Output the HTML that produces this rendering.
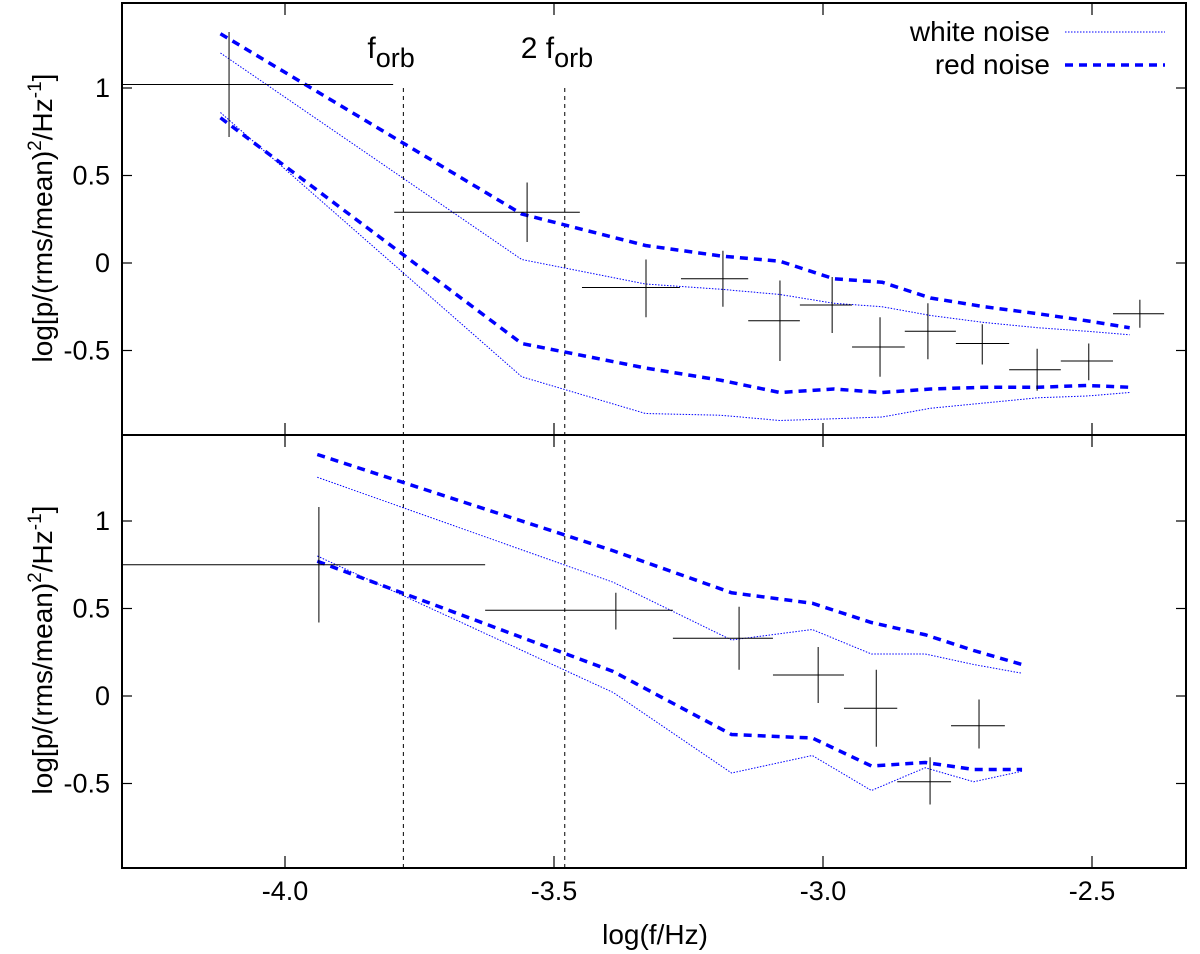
<!DOCTYPE html>
<html><head><meta charset="utf-8"><style>
body{margin:0;background:#fff}
svg{font-family:"Liberation Sans",sans-serif;display:block}
</style></head><body>
<svg id="c" width="1200" height="954" viewBox="0 0 1200 954"></svg>
<script>
const topLineX=[-4.12,-3.56,-3.33,-3.19,-3.08,-2.98,-2.89,-2.80,-2.70,-2.60,-2.51,-2.43];
const topRedHi=[1.31,0.28,0.10,0.04,0.01,-0.09,-0.11,-0.20,-0.25,-0.29,-0.33,-0.37];
const topWhiteHi=[1.20,0.02,-0.12,-0.15,-0.18,-0.23,-0.25,-0.30,-0.34,-0.37,-0.39,-0.41];
const topRedLo=[0.83,-0.46,-0.60,-0.67,-0.74,-0.72,-0.74,-0.72,-0.71,-0.71,-0.70,-0.71];
const topWhiteLo=[0.86,-0.65,-0.86,-0.87,-0.90,-0.89,-0.88,-0.83,-0.80,-0.77,-0.76,-0.74];
const topPtX=[-4.104,-3.550,-3.329,-3.186,-3.080,-2.983,-2.894,-2.805,-2.704,-2.602,-2.506,-2.411];
const topPtXlo=[-4.31,-3.797,-3.448,-3.264,-3.139,-3.043,-2.946,-2.848,-2.753,-2.654,-2.558,-2.461];
const topPtXhi=[-3.799,-3.452,-3.266,-3.139,-3.043,-2.946,-2.848,-2.753,-2.654,-2.558,-2.461,-2.366];
const topPtY=[1.02,0.29,-0.14,-0.09,-0.33,-0.24,-0.48,-0.39,-0.46,-0.61,-0.56,-0.29];
const topPtYlo=[0.72,0.12,-0.31,-0.25,-0.56,-0.40,-0.65,-0.55,-0.58,-0.73,-0.67,-0.37];
const topPtYhi=[1.32,0.46,0.02,0.07,-0.10,-0.08,-0.31,-0.23,-0.35,-0.49,-0.46,-0.21];
const botLineX=[-3.94,-3.39,-3.17,-3.02,-2.91,-2.81,-2.72,-2.63];
const botRedHi=[1.38,0.83,0.59,0.53,0.42,0.35,0.26,0.18];
const botWhiteHi=[1.25,0.65,0.32,0.38,0.24,0.24,0.18,0.13];
const botRedLo=[0.77,0.14,-0.22,-0.24,-0.40,-0.38,-0.42,-0.42];
const botWhiteLo=[0.80,0.02,-0.44,-0.34,-0.54,-0.41,-0.49,-0.43];
const botPtX=[-3.937,-3.385,-3.156,-3.009,-2.901,-2.801,-2.710];
const botPtXlo=[-4.31,-3.628,-3.279,-3.093,-2.961,-2.862,-2.762];
const botPtXhi=[-3.628,-3.279,-3.093,-2.961,-2.862,-2.762,-2.662];
const botPtY=[0.75,0.49,0.33,0.12,-0.07,-0.49,-0.17];
const botPtYlo=[0.42,0.38,0.15,-0.04,-0.29,-0.62,-0.30];
const botPtYhi=[1.08,0.59,0.51,0.28,0.15,-0.35,-0.02];
const xTicks=[-4.0,-3.5,-3.0,-2.5];
const xTickLabels=["-4.0","-3.5","-3.0","-2.5"];
const yTicks=[1,0.5,0,-0.5];
const yTickLabels=["1","0.5","0","-0.5"];
const fLines=[-3.78,-3.48];

const L=122,R=1186,T=3,M=435,B=868;
const sx=v=>285+(v+4)*538;
const syTop=v=>263-v*175;
const syBot=v=>696-v*175;
const svg=document.getElementById('c');
const NS='http://www.w3.org/2000/svg';
function mk(tag,attrs,parent){const e=document.createElementNS(NS,tag);for(const k in attrs)e.setAttribute(k,attrs[k]);(parent||svg).appendChild(e);return e;}
function clampX(p){return Math.max(L,Math.min(R,p));}

const frame=mk('g',{});


mk('rect',{x:L,y:T,width:R-L,height:B-T,fill:'none',stroke:'#000','stroke-width':2},frame);
mk('line',{x1:L,x2:R,y1:M,y2:M,stroke:'#000','stroke-width':2},frame);

const ticks=mk('g',{stroke:'#000','stroke-width':1.2});


xTicks.forEach(v=>{const x=sx(v);
 [[T,T+12],[M-12,M+12],[B-12,B]].forEach(([a,b])=>mk('line',{x1:x,x2:x,y1:a,y2:b},ticks));});
yTicks.forEach(v=>{[syTop(v),syBot(v)].forEach(y=>{
 mk('line',{x1:L,x2:L+10,y1:y,y2:y},ticks);mk('line',{x1:R-10,x2:R,y1:y,y2:y},ticks);});});

xTicks.forEach((v,i)=>{const t=mk('text',{x:sx(v),y:900,'font-size':27,'text-anchor':'middle'});
 t.textContent=xTickLabels[i];
 
 });
yTicks.forEach((v,i)=>{[syTop(v),syBot(v)].forEach(y=>{
 const t=mk('text',{x:110,y:y+9,'font-size':27,'text-anchor':'end'});
 t.textContent=yTickLabels[i];
 
 });});

const xt=mk('text',{x:655,y:944,'font-size':28,'text-anchor':'middle'});
xt.textContent='log(f/Hz)';


[[218,'y-axis-title-top'],[650,'y-axis-title-bottom']].forEach(([cy,nm])=>{
 const t=mk('text',{x:0,y:0,'font-size':28,'text-anchor':'middle',transform:`translate(52,${cy}) rotate(-90)`});
 t.innerHTML='log[p/(rms/mean)<tspan dy="-11" font-size="19">2</tspan><tspan dy="11">/Hz</tspan><tspan dy="-11" font-size="19">-1</tspan><tspan dy="11">]</tspan>';
 
 });

fLines.forEach((v,i)=>{const l=mk('line',{x1:sx(v),x2:sx(v),y1:88,y2:B,stroke:'#000','stroke-width':1,'stroke-dasharray':'4,4'});
 
 });
const f1=mk('text',{x:sx(fLines[0])-36,y:58,'font-size':30});
f1.innerHTML='f<tspan dy="9" font-size="27">orb</tspan>';


const f2=mk('text',{x:sx(fLines[1])-44,y:58,'font-size':30});
f2.innerHTML='2 f<tspan dy="9" font-size="27">orb</tspan>';



function poly(xs,ys,sy,red,name){
 const pts=xs.map((v,i)=>sx(v)+','+sy(ys[i])).join(' ');
 const p=mk('polyline',{points:pts,fill:'none',stroke:'#0000ff','stroke-width':red?3.5:1,'stroke-dasharray':red?'8,6':'1.5,1.5'});
 
 }
poly(topLineX,topWhiteHi,syTop,false,'top-white-noise-upper');
poly(topLineX,topWhiteLo,syTop,false,'top-white-noise-lower');
poly(topLineX,topRedHi,syTop,true,'top-red-noise-upper');
poly(topLineX,topRedLo,syTop,true,'top-red-noise-lower');
poly(botLineX,botWhiteHi,syBot,false,'bottom-white-noise-upper');
poly(botLineX,botWhiteLo,syBot,false,'bottom-white-noise-lower');
poly(botLineX,botRedHi,syBot,true,'bottom-red-noise-upper');
poly(botLineX,botRedLo,syBot,true,'bottom-red-noise-lower');

function crosses(X,Xl,Xh,Y,Yl,Yh,sy,name){
 X.forEach((v,i)=>{const g=mk('g',{stroke:'#000','stroke-width':1});
  
  
  mk('line',{x1:clampX(sx(Xl[i])),x2:clampX(sx(Xh[i])),y1:sy(Y[i]),y2:sy(Y[i])},g);
  mk('line',{x1:sx(v),x2:sx(v),y1:sy(Yl[i]),y2:sy(Yh[i])},g);});}
crosses(topPtX,topPtXlo,topPtXhi,topPtY,topPtYlo,topPtYhi,syTop,'top-data-point');
crosses(botPtX,botPtXlo,botPtXhi,botPtY,botPtYlo,botPtYhi,syBot,'bottom-data-point');

[['white noise',32,false,'legend-white-noise'],['red noise',65,true,'legend-red-noise']].forEach(([lab,y,red,nm])=>{
 const g=mk('g',{});
 
 
 const t=mk('text',{x:1050,y:y+9,'font-size':28,'text-anchor':'end'},g);t.textContent=lab;
 mk('line',{x1:1065,x2:1165,y1:y,y2:y,stroke:'#0000ff','stroke-width':red?3.5:1,'stroke-dasharray':red?'8,6':'1.5,1.5'},g);});
</script>
</body></html>
